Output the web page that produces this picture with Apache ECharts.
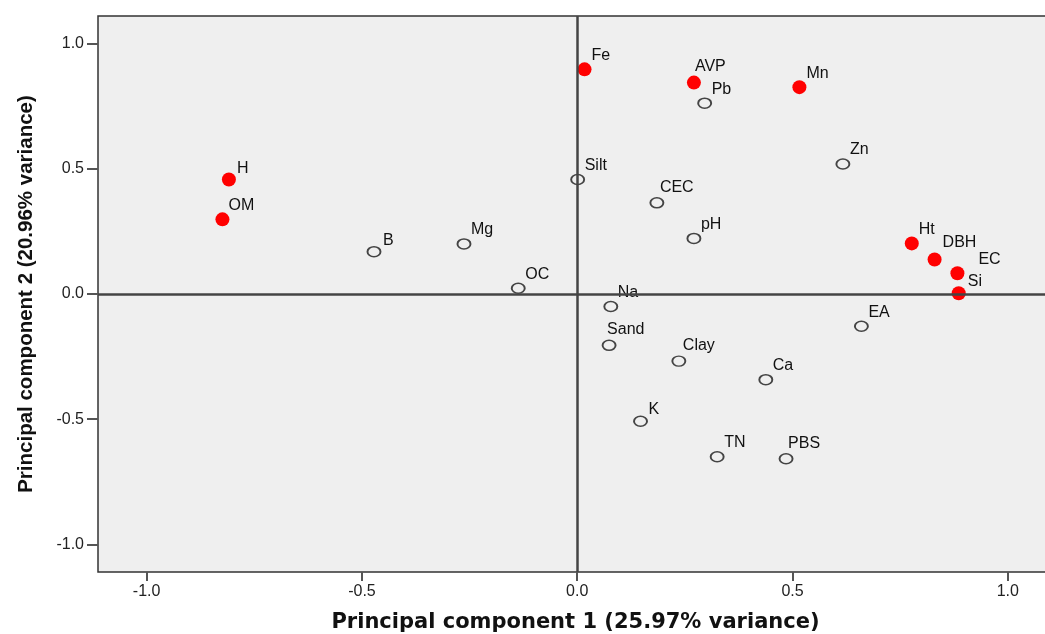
<!DOCTYPE html>
<html>
<head>
<meta charset="utf-8">
<script src="https://cdn.jsdelivr.net/npm/echarts@6/dist/echarts.min.js"></script>
<style>
html,body{margin:0;padding:0;background:#fff;}
#chart{width:1045px;height:634px;}
</style>
</head>
<body>
<div id="chart"></div>
<script>
// Highlighted (filled red) variables
const redNames = ['H', 'OM', 'Fe', 'AVP', 'Mn', 'Ht', 'DBH', 'EC', 'Si'];
const redX = [-0.809, -0.824, 0.017, 0.271, 0.516, 0.777, 0.830, 0.883, 0.886];
const redY = [0.457, 0.298, 0.897, 0.844, 0.826, 0.202, 0.138, 0.083, 0.003];

// Other (open circle) variables
const openNames = ['Silt', 'CEC', 'B', 'Mg', 'OC', 'Na', 'Pb', 'Zn', 'pH', 'Sand', 'K', 'Clay', 'EA', 'Ca', 'TN', 'PBS'];
const openX = [0.001, 0.185, -0.472, -0.263, -0.137, 0.078, 0.296, 0.617, 0.271, 0.074, 0.147, 0.236, 0.660, 0.438, 0.325, 0.485];
const openY = [0.457, 0.364, 0.169, 0.200, 0.023, -0.050, 0.762, 0.519, 0.222, -0.205, -0.508, -0.268, -0.129, -0.342, -0.650, -0.658];

const tickValues = [-1.0, -0.5, 0.0, 0.5, 1.0];
const xTitle = 'Principal component 1 (25.97% variance)';
const yTitle = 'Principal component 2 (20.96% variance)';

// label placement styling (pixel nudges, not data)
const defaultNudge = [7, -14];
const labelNudge = { AVP: [1, -16], EC: [21, -14], Sand: [-2, -16], Clay: [4, -16], PBS: [2, -15], CEC: [3, -15], DBH: [8, -17], OM: [6, -14], H: [8, -11], B: [9, -11], K: [8, -12], Si: [9, -12] };

function buildData(names, xs, ys) {
  return names.map((n, i) => {
    const off = labelNudge[n] || defaultNudge;
    return { name: n, value: [xs[i], ys[i]], label: { offset: off } };
  });
}

const labelStyle = {
  show: true,
  position: 'inside',
  align: 'left',
  verticalAlign: 'middle',
  formatter: p => p.name,
  color: '#111',
  fontFamily: 'Liberation Sans',
  fontSize: 16
};

const chart = echarts.init(document.getElementById('chart'), null, { renderer: 'canvas' });
chart.setOption({
  animation: false,
  backgroundColor: '#ffffff',
  grid: {
    left: 98, top: 16, right: -8, bottom: 62,
    containLabel: false, outerBoundsMode: 'none',
    show: true, backgroundColor: '#efefef', borderColor: '#333', borderWidth: 1.5
  },
  xAxis: {
    type: 'value', min: -1.113, max: 1.105,
    name: xTitle, nameLocation: 'middle', nameGap: 40,
    nameTextStyle: { fontFamily: 'DejaVu Sans', fontWeight: 'bold', fontSize: 21, color: '#111' },
    axisLine: { show: false, onZero: false },
    splitLine: { show: false },
    axisTick: { show: true, length: 9, lineStyle: { color: '#555', width: 2 }, customValues: tickValues },
    axisLabel: { margin: 12, color: '#222', fontFamily: 'Liberation Sans', fontSize: 16, customValues: tickValues,
      formatter: v => v.toFixed(1) }
  },
  yAxis: {
    type: 'value', min: -1.11, max: 1.11,
    name: yTitle, nameLocation: 'middle', nameGap: 61, nameRotate: 90,
    nameTextStyle: { fontFamily: 'Liberation Sans', fontWeight: 'bold', fontSize: 20.5, color: '#111' },
    axisLine: { show: false, onZero: false },
    splitLine: { show: false },
    axisTick: { show: true, length: 11, lineStyle: { color: '#555', width: 2 }, customValues: tickValues },
    axisLabel: { margin: 14, color: '#222', fontFamily: 'Liberation Sans', fontSize: 16, customValues: tickValues,
      formatter: v => v.toFixed(1) }
  },
  series: [
    {
      type: 'scatter', data: [], z: 1, silent: true,
      markLine: {
        silent: true, symbol: 'none', animation: false,
        label: { show: false },
        lineStyle: { color: '#444', width: 2.5, type: 'solid' },
        data: [{ xAxis: 0 }, { yAxis: 0 }]
      }
    },
    {
      type: 'scatter', z: 3,
      symbol: 'circle', symbolSize: [13, 10],
      itemStyle: { color: 'rgba(0,0,0,0)', borderColor: '#444', borderWidth: 1.7, opacity: 1 },
      label: labelStyle,
      data: buildData(openNames, openX, openY)
    },
    {
      type: 'scatter', z: 4,
      symbol: 'circle', symbolSize: 14,
      itemStyle: { color: '#ff0000', opacity: 1 },
      label: labelStyle,
      data: buildData(redNames, redX, redY)
    }
  ]
});
</script>
</body>
</html>
